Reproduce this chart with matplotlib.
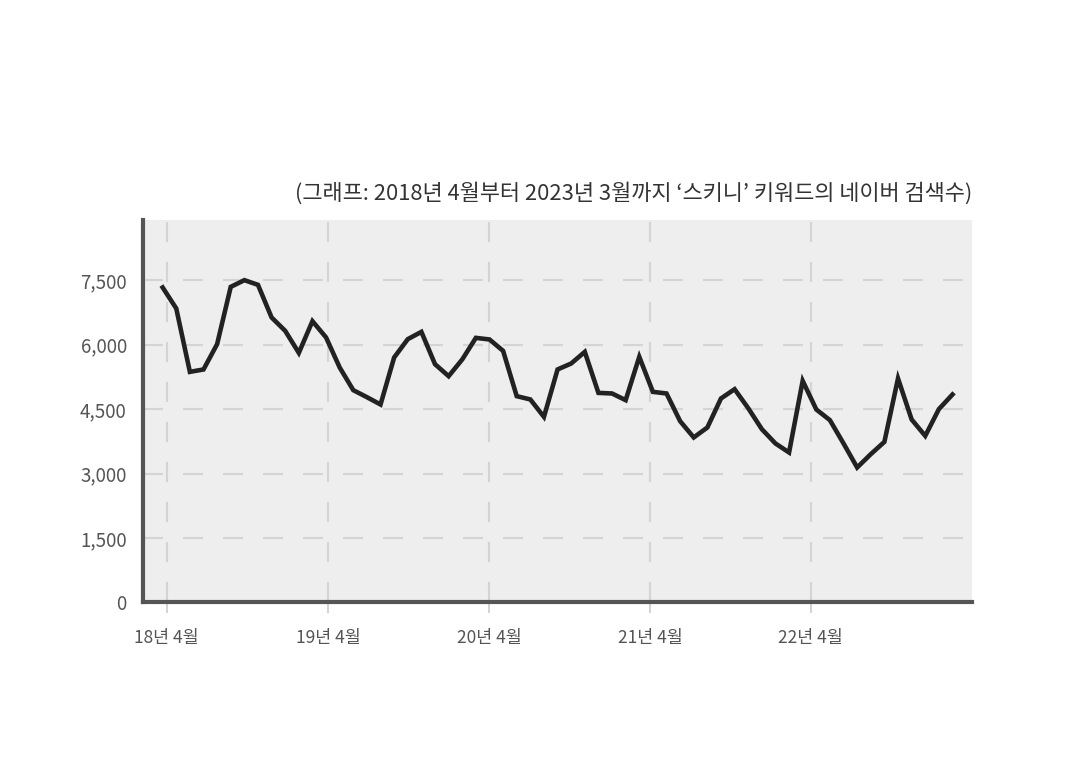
import matplotlib
matplotlib.use("Agg")
import matplotlib.pyplot as plt
import numpy as np

plt.rcParams["font.family"] = ["Noto Sans CJK KR", "DejaVu Sans"]

# monthly Naver search volume for '스키니', 18.04 ~ 23.03
searches = [
    7330, 6841, 5366, 5422, 6011, 7344, 7500, 7391, 6632, 6320,
    5808, 6546, 6167, 5468, 4940, 4777, 4607, 5701, 6127, 6297,
    5545, 5266, 5655, 6157, 6120, 5855, 4801, 4724, 4319, 5422,
    5561, 5831, 4877, 4863, 4708, 5715, 4901, 4863, 4219, 3840,
    4072, 4747, 4963, 4521, 4033, 3700, 3490, 5157, 4491, 4242,
    3700, 3141, 3451, 3737, 5212, 4258, 3877, 4498, 4840,
]
tick_pos = [0.3, 12.15, 24.0, 35.8, 47.6]
tick_labels = ["18년 4월", "19년 4월", "20년 4월", "21년 4월", "22년 4월"]
y_ticks = [0, 1500, 3000, 4500, 6000, 7500]
title = "(그래프: 2018년 4월부터 2023년 3월까지 ‘스키니’ 키워드의 네이버 검색수)"

fig = plt.figure(figsize=(10.81, 7.79), dpi=100)
ax = fig.add_axes([0.1327, 0.2266, 0.899 - 0.1327, 0.7176 - 0.2266])
ax.set_facecolor("#eeeeee")

x = np.arange(len(searches))
ax.plot(x, searches, color="#222222", lw=3.3, solid_joinstyle="miter", zorder=3)

ax.set_xlim(-1.41, 59.42)
ax.set_ylim(0, 8900)
ax.set_xticks(tick_pos)
ax.set_xticklabels(tick_labels)
ax.set_yticks(y_ticks)
ax.set_yticklabels([f"{v:,}" for v in y_ticks])

ax.grid(True, color="#d4d4d4", lw=1.5, linestyle=(0, (9.6, 9.6)))
ax.set_axisbelow(True)

for side in ["top", "right"]:
    ax.spines[side].set_visible(False)
for side in ["left", "bottom"]:
    ax.spines[side].set_color("#555555")
    ax.spines[side].set_linewidth(3)

ax.tick_params(axis="x", length=8, width=1.5, color="#d4d4d4", pad=11,
               labelsize=12.5, labelcolor="#555555")
ax.tick_params(axis="y", length=0, pad=12, labelsize=13.5, labelcolor="#555555")

fig.text(0.899, 0.752, title, ha="right", va="center", fontsize=15.8, color="#333333")

fig.savefig("out.png", dpi=100)
